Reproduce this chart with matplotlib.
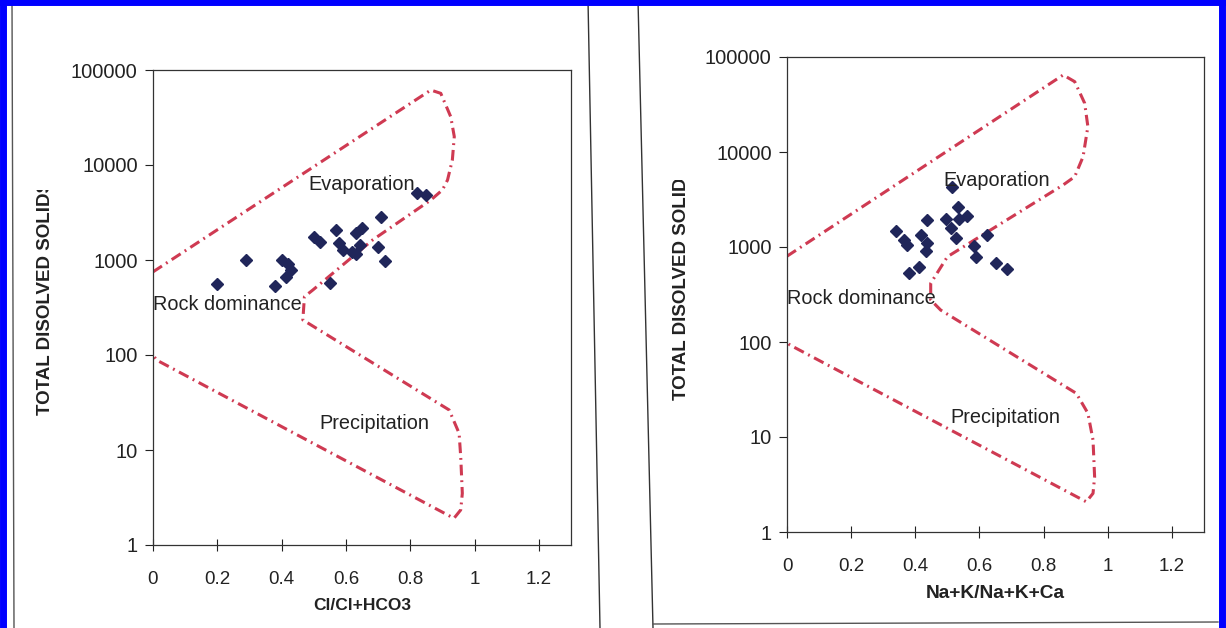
import numpy as np
import matplotlib.pyplot as plt
from matplotlib.lines import Line2D
from matplotlib.transforms import Bbox, TransformedBbox
from matplotlib.ticker import FixedLocator, FixedFormatter, NullLocator

plt.rcParams['font.family'] = ['Liberation Sans', 'DejaVu Sans']

# Gibbs diagram data: chloride ratio panel
cl_ratio = [0.20, 0.29, 0.38, 0.40, 0.42, 0.43, 0.415, 0.50, 0.52, 0.57, 0.63, 0.65,
            0.58, 0.59, 0.62, 0.63, 0.645, 0.71, 0.70, 0.72, 0.55, 0.82, 0.85]
cl_tds = [560, 1000, 530, 1000, 910, 790, 660, 1750, 1550, 2070, 1930, 2180,
          1510, 1270, 1210, 1160, 1440, 2840, 1370, 980, 570, 5070, 4830]

# cation ratio panel
na_ratio = [0.514, 0.533, 0.437, 0.495, 0.511, 0.536, 0.560, 0.526, 0.341, 0.365, 0.375,
            0.418, 0.437, 0.433, 0.625, 0.582, 0.588, 0.412, 0.381, 0.650, 0.687]
na_tds = [4280, 2640, 1930, 1970, 1590, 1970, 2120, 1240, 1470, 1190, 1050,
          1340, 1100, 910, 1340, 1030, 790, 615, 530, 680, 590]

# boundary envelopes (x, TDS)
cl_bound_x = [0.0, 0.864, 0.895, 0.926, 0.937, 0.931, 0.916, 0.90, 0.864, 0.683, 0.497,
              0.471, 0.466, 0.921, 0.952, 0.957, 0.962, 0.957, 0.936, 0.011, 0.0]
cl_bound_y = [750, 61500, 56800, 32200, 19900, 11300, 6950, 5460, 4280, 1625, 483,
              411, 234, 26.4, 15, 8.5, 3.5, 2.34, 1.91, 88.5, 100]

na_bound_x = [0.0, 0.861, 0.897, 0.928, 0.938, 0.923, 0.897, 0.861, 0.685, 0.50, 0.448,
              0.448, 0.479, 0.902, 0.938, 0.954, 0.959, 0.954, 0.933, 0.009, 0.0]
na_bound_y = [800, 64700, 55000, 32600, 18500, 8920, 5500, 4500, 1925, 790, 415,
              277, 217, 28.8, 17.8, 9.3, 3.8, 2.55, 2.08, 93, 100]

y_ticks = [1, 10, 100, 1000, 10000, 100000]
y_labels = ['1', '10', '100', '1000', '10000', '100000']
x_ticks = [0, 0.2, 0.4, 0.6, 0.8, 1.0, 1.2]
x_labels = ['0', '0.2', '0.4', '0.6', '0.8', '1', '1.2']

W, H = 1226, 628
fig = plt.figure(figsize=(W / 100, H / 100), dpi=100, facecolor='white')


def box(l, t, r, b):
    return [l / W, 1 - b / H, (r - l) / W, (b - t) / H]


def fline(xs, ys, **kw):
    fig.add_artist(Line2D([x / W for x in xs], [1 - y / H for y in ys],
                          transform=fig.transFigure, **kw))


# scanned page edges and frame
fline([12, 14], [0, 628], color='#555555', lw=1)
fline([588, 600], [0, 628], color='#333333', lw=1)
fline([638, 653], [0, 628], color='#333333', lw=1)
fline([653, 1218], [624, 622], color='#555555', lw=1)
fline([3, 3], [0, 628], color='#0000ff', lw=5)
fline([0, 1226], [2, 2], color='#0000ff', lw=5)
fline([1222, 1222], [0, 628], color='#0000ff', lw=5)

line_col = '#cf3a52'
mark_col = '#20265a'


def panel(rect, x, y, bx, by, xlabel, xlab_size, xlab_y, texts):
    ax = fig.add_axes(rect)
    ax.set_yscale('log')
    ax.set_ylim(1, 100000)
    ax.set_xlim(0, 1.3)
    ax.yaxis.set_major_locator(FixedLocator(y_ticks))
    ax.yaxis.set_major_formatter(FixedFormatter(y_labels))
    ax.yaxis.set_minor_locator(NullLocator())
    ax.set_xticks(x_ticks)
    ax.set_xticklabels(x_labels)
    ax.tick_params(axis='y', direction='out', length=6, width=0.8, pad=5,
                   labelsize=14.5, colors='#222222')
    ax.tick_params(axis='x', direction='inout', length=8, width=0.8, pad=15,
                   labelsize=13.5, colors='#222222')
    for s in ax.spines.values():
        s.set_linewidth(0.9)
        s.set_color('#333333')

    ax.plot(bx, by, color=line_col, lw=2.2, linestyle=(0, (3.5, 1.6, 0.6, 1.6)))
    ax.plot(x, y, linestyle='none', marker='D', markersize=6.5, color=mark_col)

    for tx, ty, s, ha in texts:
        ax.text(tx, ty, s, ha=ha, va='center', fontsize=14.3, color='#222222')

    fig.text(rect[0] + rect[2] / 2, xlab_y, xlabel, ha='center', va='center',
             fontsize=xlab_size, fontweight='bold', color='#222222')
    return ax


panel(box(153, 70, 571, 545), cl_ratio, cl_tds, cl_bound_x, cl_bound_y,
      'Cl/Cl+HCO3', 12.5, 1 - 606 / H,
      [(0.65, 6160, 'Evaporation', 'center'),
       (0.0, 336, 'Rock dominance', 'left'),
       (0.69, 18.8, 'Precipitation', 'center')])

panel(box(787, 57, 1204, 532), na_ratio, na_tds, na_bound_x, na_bound_y,
      'Na+K/Na+K+Ca', 13.8, 1 - 593 / H,
      [(0.653, 5070, 'Evaporation', 'center'),
       (0.0, 290, 'Rock dominance', 'left'),
       (0.681, 15.9, 'Precipitation', 'center')])

# y labels, cut off at the top as in the printed figure
for xc, ybot, ytop in [(46, 415, 190), (681, 400, 180)]:
    t = fig.text(xc / W, 1 - ybot / H, 'TOTAL DISOLVED SOLIDS', rotation=90,
                 ha='center', va='bottom', fontsize=13.5, fontweight='bold',
                 color='#222222')
    clip = TransformedBbox(Bbox([[(xc - 20) / W, 1 - ybot / H - 0.01],
                                 [(xc + 20) / W, 1 - ytop / H]]), fig.transFigure)
    t.set_clip_box(clip)
    t.set_clip_on(True)

fig.savefig('out.png', dpi=100, facecolor='white')
